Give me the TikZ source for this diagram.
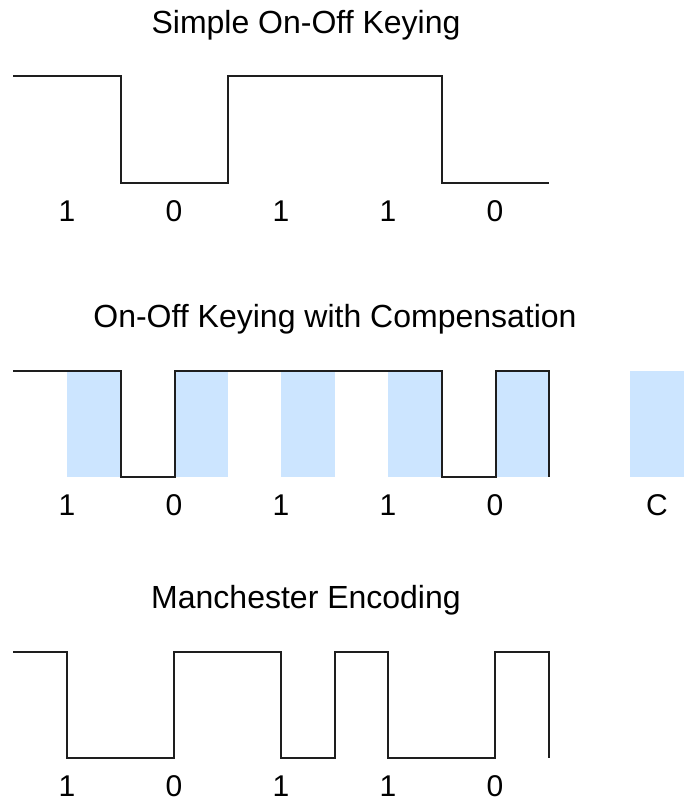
\documentclass[tikz,border=0pt]{standalone}
\usepackage{fontspec}
\setmainfont{Liberation Sans}
\definecolor{compblue}{RGB}{204,229,255}
\definecolor{wavecol}{RGB}{30,30,30}
\begin{document}
\begin{tikzpicture}[x=1pt,y=-1pt,
  wave/.style={draw=wavecol,line width=2.2pt,line join=miter},
  comp/.style={fill=compblue,draw=none},
  title/.style={anchor=base,inner sep=0pt,font=\fontsize{32}{38}\selectfont},
  bit/.style={anchor=base,inner sep=0pt,font=\fontsize{30}{36}\selectfont}]
\useasboundingbox (0,0) rectangle (684,804);

% ---------- Simple On-Off Keying ----------
\node[title] (t1) at (306,33) {Simple On-Off Keying};
\draw[wave] (13,76) -- (121,76) -- (121,183) -- (228,183) -- (228,76)
  -- (442,76) -- (442,183) -- (549,183);
\foreach \x/\b [count=\i] in {67/1,174/0,281/1,388/1,495/0}
  \node[bit] (a\i) at (\x,221) {\b};

% ---------- On-Off Keying with Compensation ----------
\node[title] (t2) at (335,327) {On-Off Keying with Compensation};
\foreach \x [count=\i] in {67,174,281,388,495,630}
  \fill[comp] (\x,371) rectangle ++(54,106);
\draw[wave] (13,371) -- (121,371) -- (121,477) -- (175,477) -- (175,371)
  -- (442,371) -- (442,477) -- (496,477) -- (496,371) -- (549,371) -- (549,477);
\foreach \x/\b [count=\i] in {67/1,174/0,281/1,388/1,495/0,657/C}
  \node[bit] (b\i) at (\x,515) {\b};

% ---------- Manchester Encoding ----------
\node[title] (t3) at (306,608) {Manchester Encoding};
\draw[wave] (13,652) -- (67,652) -- (67,758) -- (174,758) -- (174,652)
  -- (281,652) -- (281,758) -- (335,758) -- (335,652) -- (388,652)
  -- (388,758) -- (495,758) -- (495,652) -- (549,652) -- (549,758);
\foreach \x/\b [count=\i] in {67/1,174/0,281/1,388/1,495/0}
  \node[bit] (c\i) at (\x,796) {\b};
\end{tikzpicture}
\end{document}
